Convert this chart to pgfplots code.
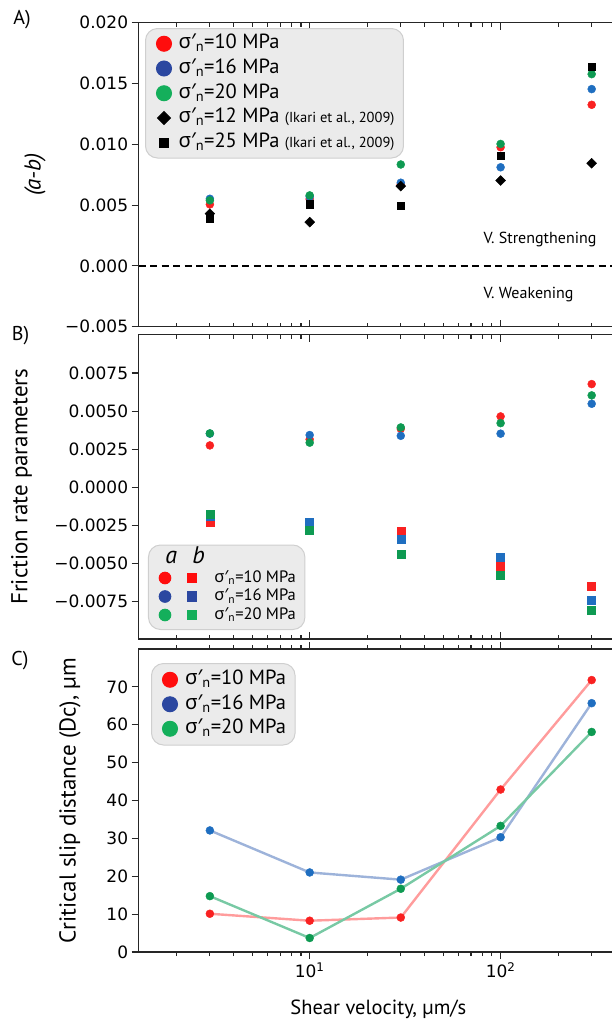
\documentclass[border=0pt]{standalone}
\usepackage{fontspec}
\setmainfont{PT Sans}
\newfontfamily\dejavu{DejaVu Sans}
\newfontfamily\greek{Noto Sans}
\usepackage{pgfplots}
\pgfplotsset{compat=1.18}

\definecolor{dR}{HTML}{F92121}
\definecolor{dB}{HTML}{1F6EC0}
\definecolor{dG}{HTML}{0E9A52}
\definecolor{lR}{HTML}{FF0D0D}
\definecolor{lB}{HTML}{2B47A0}
\definecolor{lG}{HTML}{14AF5B}
\definecolor{cR}{HTML}{FF9C9C}
\definecolor{cB}{HTML}{9DB3DA}
\definecolor{cG}{HTML}{78C9A4}
\definecolor{legfill}{HTML}{EBEBEB}
\definecolor{legdraw}{HTML}{CFCFCF}

\newcommand\sn{{\greek σ′}\textsubscript{n}}

\begin{document}
\begin{tikzpicture}
\path[use as bounding box] (0,0) rectangle (612pt,-1021pt);

% ---------------- Panel A
\begin{semilogxaxis}[
  scale only axis, width=479.6pt, height=304pt,
  at={(138.6pt,-22.7pt)}, anchor=north west,
  xmin=1.27, xmax=413,
  xtick={10,100},
  minor xtick={2,3,4,5,6,7,8,9,20,30,40,50,60,70,80,90,200,300,400},
  xticklabels={}, xtick align=inside, ytick align=outside,
  scaled y ticks=false,
  axis line style={line width=1.3pt, black!85},
  major tick style={line width=1.1pt, black!85},
  minor tick style={line width=1.1pt, black!85},
  major tick length=7pt, minor tick length=4pt,
  tick label style={font=\dejavu\fontsize{17}{17}\selectfont},
  ymin=-0.005, ymax=0.020,
  ytick={-0.005,0,0.005,0.01,0.015,0.02},
  yticklabels={−0.005,0.000,0.005,0.010,0.015,0.020},
  ylabel={\textit{(a-b)}},
  ylabel style={font=\fontsize{23}{26}\selectfont, at={(axis description cs:-0.216,0.5)}, anchor=center},
  legend cell align=left,
  legend style={at={(0,1)}, anchor=north west, xshift=6.4pt, yshift=-5.3pt,
    fill=legfill, draw=legdraw, line width=1pt, rounded corners=12pt,
    font=\fontsize{20.5}{22}\selectfont, inner xsep=8pt, inner ysep=4.5pt, row sep=3.25pt,
    nodes={inner sep=1pt, text height=14.5pt, text depth=5pt}},
]
\addplot[forget plot, black, line width=1.3pt, dash pattern=on 7pt off 4.5pt] coordinates {(1.27,0) (413,0)};
\addplot[forget plot, only marks, mark=*, mark size=4pt, dR] coordinates {(3,0.00506)(10,0.0055)(30,0.0067)(100,0.00976)(300,0.01325)};
\addplot[forget plot, only marks, mark=*, mark size=4pt, dB] coordinates {(3,0.00552)(10,0.0057)(30,0.00684)(100,0.00811)(300,0.01454)};
\addplot[forget plot, only marks, mark=*, mark size=4pt, dG] coordinates {(3,0.00539)(10,0.0058)(30,0.00834)(100,0.01003)(300,0.01577)};
\addplot[forget plot, only marks, mark=square*, mark size=3.5pt, mark options={rotate=45}, black] coordinates {(3,0.0043)(10,0.0036)(30,0.00656)(100,0.00702)(300,0.00844)};
\addplot[forget plot, only marks, mark=square*, mark size=3.8pt, black] coordinates {(3,0.0039)(10,0.00506)(30,0.00495)(100,0.00907)(300,0.01639)};
\addlegendimage{legend image code/.code={\path (0pt,0pt) (23pt,0pt); \fill[lR] (10pt,0pt) circle (7.5pt);}}
\addlegendentry{\sn=10 MPa}
\addlegendimage{legend image code/.code={\path (0pt,0pt) (23pt,0pt); \fill[lB] (10pt,0pt) circle (7.5pt);}}
\addlegendentry{\sn=16 MPa}
\addlegendimage{legend image code/.code={\path (0pt,0pt) (23pt,0pt); \fill[lG] (10pt,0pt) circle (7.5pt);}}
\addlegendentry{\sn=20 MPa}
\addlegendimage{legend image code/.code={\path (0pt,0pt) (23pt,0pt); \fill[black, sharp corners] (10pt,6.5pt) -- (16.5pt,0pt) -- (10pt,-6.5pt) -- (3.5pt,0pt) -- cycle;}}
\addlegendentry{\sn=12 MPa {\fontsize{14.5}{15}\selectfont (Ikari et al., 2009)}}
\addlegendimage{legend image code/.code={\path (0pt,0pt) (23pt,0pt); \fill[black, sharp corners] (5.5pt,-4.7pt) rectangle (14.5pt,4.7pt);}}
\addlegendentry{\sn=25 MPa {\fontsize{14.5}{15}\selectfont (Ikari et al., 2009)}}
\node[anchor=west, font=\fontsize{16}{16}\selectfont] at (axis description cs:0.712,0.286) {V. Strengthening};
\node[anchor=west, font=\fontsize{16}{16}\selectfont] at (axis description cs:0.712,0.105) {V. Weakening};
\end{semilogxaxis}

% ---------------- Panel B
\begin{semilogxaxis}[
  scale only axis, width=479.6pt, height=304.5pt,
  at={(138.6pt,-334.5pt)}, anchor=north west,
  xmin=1.27, xmax=413,
  xtick={10,100},
  minor xtick={2,3,4,5,6,7,8,9,20,30,40,50,60,70,80,90,200,300,400},
  xticklabels={}, xtick align=inside, ytick align=outside,
  scaled y ticks=false,
  axis line style={line width=1.3pt, black!85},
  major tick style={line width=1.1pt, black!85},
  minor tick style={line width=1.1pt, black!85},
  major tick length=7pt, minor tick length=4pt,
  tick label style={font=\dejavu\fontsize{17}{17}\selectfont},
  ymin=-0.00994, ymax=0.01002,
  ytick={-0.0075,-0.005,-0.0025,0,0.0025,0.005,0.0075},
  yticklabels={−0.0075,−0.0050,−0.0025,0.0000,0.0025,0.0050,0.0075},
  ylabel={Friction rate parameters},
  ylabel style={font=\fontsize{23}{26}\selectfont, at={(axis description cs:-0.244,0.5)}, anchor=center},
  legend cell align=left,
  legend style={at={(0,0)}, anchor=south west, xshift=9.4pt, yshift=9pt,
    fill=legfill, draw=legdraw, line width=1pt, rounded corners=12pt,
    font=\fontsize{16.5}{18}\selectfont, inner xsep=8pt, inner ysep=6pt, row sep=1.5pt,
    nodes={inner sep=1pt, text height=11.5pt, text depth=3.5pt}},
]
\addplot[forget plot, only marks, mark=*, mark size=4pt, dR] coordinates {(3,0.00275)(10,0.00314)(30,0.00384)(100,0.00465)(300,0.00677)};
\addplot[forget plot, only marks, mark=*, mark size=4pt, dB] coordinates {(3,0.00352)(10,0.00343)(30,0.00338)(100,0.00352)(300,0.00548)};
\addplot[forget plot, only marks, mark=*, mark size=4pt, dG] coordinates {(3,0.00354)(10,0.00293)(30,0.00393)(100,0.00421)(300,0.00603)};
\addplot[forget plot, only marks, mark=square*, mark size=4pt, dR] coordinates {(3,-0.00229)(10,-0.0026)(30,-0.00288)(100,-0.00515)(300,-0.00646)};
\addplot[forget plot, only marks, mark=square*, mark size=4pt, dB] coordinates {(3,-0.0019)(10,-0.00227)(30,-0.00343)(100,-0.00459)(300,-0.0074)};
\addplot[forget plot, only marks, mark=square*, mark size=4pt, dG] coordinates {(3,-0.00175)(10,-0.00284)(30,-0.00441)(100,-0.00576)(300,-0.00806)};
\addlegendimage{legend image code/.code={
  \path (0pt,0pt) (56pt,0pt);
  \node[font=\itshape\fontsize{24}{24}\selectfont, inner sep=0pt] at (8pt,0pt) {a};
  \node[font=\itshape\fontsize{24}{24}\selectfont, inner sep=0pt] at (35pt,0pt) {b};}}
\addlegendentry{}
\addlegendimage{legend image code/.code={
  \path (0pt,0pt) (56pt,0pt);
  \fill[lR] (8pt,0pt) circle (5.8pt);
  \fill[lR, sharp corners] (30.3pt,-4.7pt) rectangle (39.7pt,4.7pt);}}
\addlegendentry{\sn=10 MPa}
\addlegendimage{legend image code/.code={
  \path (0pt,0pt) (56pt,0pt);
  \fill[lB] (8pt,0pt) circle (5.8pt);
  \fill[lB, sharp corners] (30.3pt,-4.7pt) rectangle (39.7pt,4.7pt);}}
\addlegendentry{\sn=16 MPa}
\addlegendimage{legend image code/.code={
  \path (0pt,0pt) (56pt,0pt);
  \fill[lG] (8pt,0pt) circle (5.8pt);
  \fill[lG, sharp corners] (30.3pt,-4.7pt) rectangle (39.7pt,4.7pt);}}
\addlegendentry{\sn=20 MPa}
\end{semilogxaxis}

% ---------------- Panel C
\begin{semilogxaxis}[
  scale only axis, width=479.6pt, height=303pt,
  at={(138.6pt,-649pt)}, anchor=north west,
  xmin=1.27, xmax=413,
  xtick={10,100},
  minor xtick={2,3,4,5,6,7,8,9,20,30,40,50,60,70,80,90,200,300,400},
  xticklabels={10\textsuperscript{1},10\textsuperscript{2}},
  xtick align=outside, ytick align=outside,
  axis line style={line width=1.3pt, black!85},
  major tick style={line width=1.1pt, black!85},
  minor tick style={line width=1.1pt, black!85},
  major tick length=7pt, minor tick length=4pt,
  tick label style={font=\dejavu\fontsize{17}{17}\selectfont},
  ymin=0, ymax=80,
  ytick={0,10,20,30,40,50,60,70},
  yticklabels={0,10,20,30,40,50,60,70},
  ylabel={Critical slip distance (Dc), µm},
  ylabel style={font=\fontsize{23}{26}\selectfont, at={(axis description cs:-0.143,0.5)}, anchor=center},
  xlabel={Shear velocity, µm/s},
  xlabel style={font=\fontsize{20.5}{24}\selectfont, at={(axis description cs:0.5,-0.188)}, anchor=center},
  legend cell align=left,
  legend style={at={(0,1)}, anchor=north west, xshift=12.4pt, yshift=-14pt,
    fill=legfill, draw=legdraw, line width=1pt, rounded corners=12pt,
    font=\fontsize{20.5}{22}\selectfont, inner xsep=8pt, inner ysep=5.5pt, row sep=3pt,
    nodes={inner sep=1pt, text height=14.5pt, text depth=5pt}},
]
\addplot[forget plot, cR, line width=2.4pt] coordinates {(3,10.1)(10,8.26)(30,9.1)(100,42.9)(300,71.8)};
\addplot[forget plot, cB, line width=2.4pt] coordinates {(3,32.1)(10,21.0)(30,19.1)(100,30.3)(300,65.7)};
\addplot[forget plot, cG, line width=2.4pt] coordinates {(3,14.75)(10,3.7)(30,16.7)(100,33.3)(300,58.1)};
\addplot[forget plot, only marks, mark=*, mark size=4pt, dR] coordinates {(3,10.1)(10,8.26)(30,9.1)(100,42.9)(300,71.8)};
\addplot[forget plot, only marks, mark=*, mark size=4pt, dB] coordinates {(3,32.1)(10,21.0)(30,19.1)(100,30.3)(300,65.7)};
\addplot[forget plot, only marks, mark=*, mark size=4pt, dG] coordinates {(3,14.75)(10,3.7)(30,16.7)(100,33.3)(300,58.1)};
\addlegendimage{legend image code/.code={\path (0pt,0pt) (23.6pt,0pt); \fill[lR] (10pt,0pt) circle (7.5pt);}}
\addlegendentry{\sn=10 MPa}
\addlegendimage{legend image code/.code={\path (0pt,0pt) (23.6pt,0pt); \fill[lB] (10pt,0pt) circle (7.5pt);}}
\addlegendentry{\sn=16 MPa}
\addlegendimage{legend image code/.code={\path (0pt,0pt) (23.6pt,0pt); \fill[lG] (10pt,0pt) circle (7.5pt);}}
\addlegendentry{\sn=20 MPa}
\end{semilogxaxis}

\node[font=\fontsize{20}{20}\selectfont] at (22pt,-20pt) {A)};
\node[font=\fontsize{20}{20}\selectfont] at (20.5pt,-336pt) {B)};
\node[font=\fontsize{20}{20}\selectfont] at (20pt,-661pt) {C)};
\end{tikzpicture}
\end{document}
